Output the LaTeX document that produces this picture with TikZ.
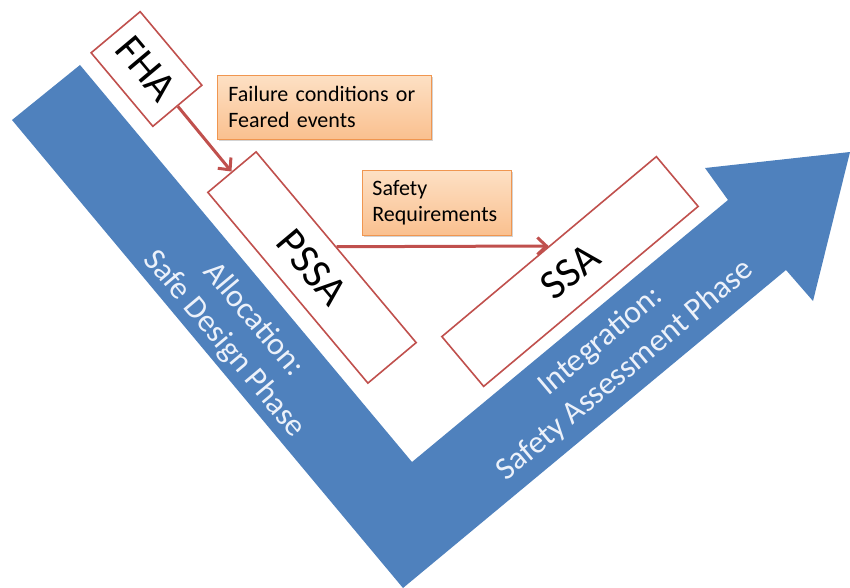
\documentclass[tikz,border=0pt]{standalone}
\usepackage{fontspec}
\setmainfont{Carlito}
\usetikzlibrary{arrows.meta,shadows}

\definecolor{vblue}{RGB}{79,129,189}
\definecolor{boxred}{RGB}{192,80,77}
\definecolor{notetop}{RGB}{253,224,196}
\definecolor{notebot}{RGB}{250,192,143}
\definecolor{noteedge}{RGB}{240,150,80}
\definecolor{phasetext}{RGB}{236,241,250}

\tikzset{
  phasebox/.style={draw=boxred, line width=1.6pt, fill=white,
    inner sep=0pt, font=\fontsize{42}{50}\selectfont},
  notebox/.style={draw=noteedge, line width=0.8pt, top color=notetop,
    bottom color=notebot, drop shadow={shadow xshift=2pt, shadow yshift=-2pt, opacity=0.35},
    anchor=north west, align=left, inner ysep=0pt,
    font=\fontsize{22}{26}\selectfont},
  phaselabel/.style={text=phasetext, align=center,
    font=\fontsize{32}{38}\selectfont},
  flow/.style={draw=boxred, line width=3pt,
    -{Straight Barb[length=9pt, width=17pt, line width=3pt]}}
}

\begin{document}
\begin{tikzpicture}[x=1pt, y=-1pt]
  \useasboundingbox (0,0) rectangle (850,588);

  % the V-shaped process arrow
  \fill[vblue] (12,120) -- (80,65) -- (412,462) -- (728,200) -- (705,168)
    -- (850,152) -- (813,301) -- (786,270) -- (403,588) -- cycle;

  \node[phaselabel, rotate=-50] (alloc) at (239,332)
    {Allocation:\\Safe Design Phase};
  \node[phaselabel, rotate=40] (integ) at (613,356)
    {Integration:\\Safety Assessment Phase};

  % assessment steps
  \node[phasebox, rotate=-50, minimum width=96pt, minimum height=64pt]
    (FHA) at (146.5,69) {FHA};
  \node[phasebox, rotate=-50, minimum width=249pt, minimum height=63pt]
    (PSSA) at (312,267.5) {PSSA};
  \node[phasebox, rotate=40, minimum width=280pt, minimum height=65pt]
    (SSA) at (570,271.5) {SSA};

  % outputs passed between steps
  \node[notebox, minimum width=214pt, minimum height=64pt, text width=192pt,
    inner xsep=11pt] (fc) at (217,75) {Failure conditions or\\Feared events};
  \node[notebox, minimum width=149pt, minimum height=65pt, text width=129pt,
    inner xsep=10pt] (sr) at (362,170) {Safety\\Requirements};

  \draw[flow] (FHA.east) -- (PSSA.west);
  \draw[flow] (PSSA.north) -- (SSA.north);
\end{tikzpicture}
\end{document}
